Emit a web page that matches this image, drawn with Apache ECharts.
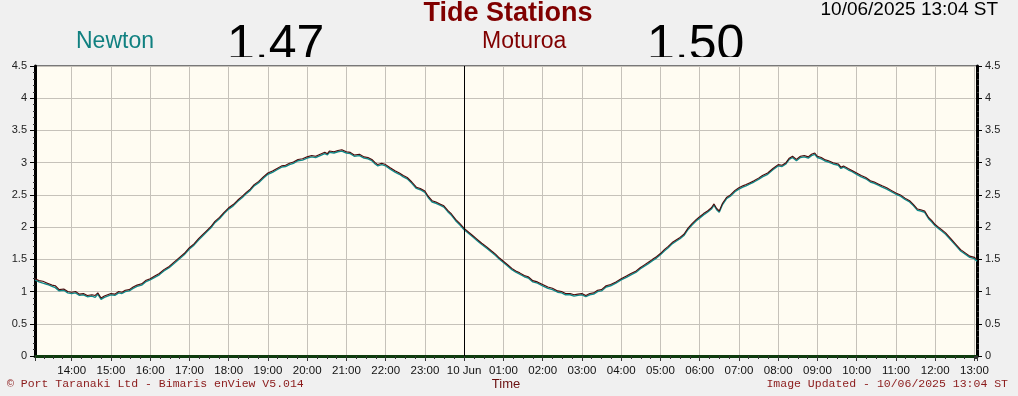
<!DOCTYPE html>
<html>
<head>
<meta charset="utf-8">
<title>Tide Stations</title>
<script src="https://cdn.jsdelivr.net/npm/echarts@6/dist/echarts.min.js"></script>
<style>
  html, body { margin: 0; padding: 0; background: #f0f0f0; }
  #main { width: 1018px; height: 396px; }
</style>
</head>
<body>
<div id="main"></div>
<script>
// station names and latest readings shown in the header
const stationNames = ['Newton', 'Moturoa'];
const latestValues = ['1.47', '1.50'];
const stampText = '10/06/2025 13:04 ST';

// sample times (HH:MM), 09 Jun 13:04 -> 10 Jun 13:04
const times = [
  '13:04','13:10','13:16','13:23','13:30','13:35','13:41','13:48','13:54','14:00',
  '14:06','14:12','14:18','14:24','14:31','14:36','14:40','14:45','14:50','14:55',
  '15:00','15:06','15:12','15:17','15:22','15:28','15:34','15:40','15:47','15:53',
  '16:00','16:07','16:14','16:21','16:29','16:37','16:45','16:52','17:00','17:07',
  '17:14','17:21','17:27','17:33','17:39','17:46','17:53','18:00','18:07','18:14',
  '18:21','18:27','18:33','18:39','18:46','18:53','19:00','19:07','19:14','19:21',
  '19:27','19:33','19:39','19:46','19:53','20:00','20:07','20:13','20:20','20:27',
  '20:31','20:34','20:41','20:47','20:53','21:00','21:06','21:12','21:20','21:27',
  '21:33','21:39','21:44','21:48','21:54','22:00','22:07','22:15','22:21','22:27',
  '22:33','22:40','22:47','22:53','23:00','23:05','23:11','23:17','23:23','23:29',
  '23:35','23:41','23:47','23:54','00:00','00:07','00:13','00:20','00:27','00:35',
  '00:42','00:48','00:54','01:00','01:06','01:13','01:19','01:25','01:32','01:38',
  '01:45','01:52','02:00','02:08','02:15','02:23','02:29','02:35','02:42','02:48',
  '02:54','03:00','03:06','03:12','03:18','03:24','03:30','03:37','03:44','03:52',
  '04:00','04:08','04:15','04:23','04:29','04:35','04:41','04:48','04:54','05:00',
  '05:06','05:12','05:18','05:24','05:30','05:36','05:42','05:48','05:55','06:00',
  '06:06','06:12','06:18','06:22','06:26','06:30','06:35','06:41','06:47','06:54',
  '07:00','07:06','07:11','07:17','07:23','07:30','07:36','07:44','07:52','08:00',
  '08:06','08:12','08:17','08:22','08:28','08:34','08:40','08:46','08:51','08:56',
  '09:00','09:06','09:11','09:17','09:24','09:32','09:36','09:40','09:47','09:53',
  '10:00','10:07','10:14','10:21','10:27','10:33','10:39','10:46','10:53','11:00',
  '11:07','11:14','11:21','11:27','11:33','11:38','11:44','11:50','11:55','12:00',
  '12:05','12:10','12:16','12:24','12:31','12:39','12:46','12:53','13:00','13:04'
];

// tide height (m)
const moturoa = [
  1.20,1.17,1.16,1.13,1.10,1.09,1.03,1.04,1.00,0.99,
  1.00,0.96,0.97,0.94,0.95,0.94,0.98,0.90,0.93,0.95,
  0.97,0.96,1.00,0.99,1.02,1.03,1.07,1.10,1.12,1.17,
  1.20,1.24,1.28,1.34,1.39,1.46,1.53,1.59,1.68,1.74,
  1.82,1.89,1.95,2.01,2.09,2.15,2.23,2.30,2.35,2.42,
  2.48,2.54,2.59,2.66,2.71,2.78,2.84,2.87,2.91,2.95,
  2.96,2.99,3.01,3.05,3.06,3.09,3.11,3.10,3.13,3.16,
  3.14,3.18,3.17,3.19,3.20,3.17,3.16,3.12,3.13,3.09,
  3.08,3.05,3.00,2.97,2.99,2.97,2.92,2.87,2.84,2.80,
  2.77,2.70,2.62,2.60,2.56,2.48,2.41,2.39,2.36,2.33,
  2.26,2.20,2.12,2.05,1.98,1.92,1.87,1.81,1.75,1.69,
  1.63,1.58,1.52,1.47,1.42,1.36,1.32,1.29,1.25,1.23,
  1.17,1.15,1.11,1.07,1.05,1.01,1.00,0.97,0.97,0.95,
  0.96,0.97,0.94,0.97,0.98,1.02,1.03,1.09,1.11,1.15,
  1.20,1.24,1.28,1.32,1.37,1.41,1.45,1.50,1.54,1.59,
  1.65,1.70,1.76,1.80,1.84,1.89,1.98,2.05,2.12,2.16,
  2.21,2.25,2.30,2.36,2.29,2.25,2.37,2.46,2.50,2.57,
  2.61,2.64,2.66,2.69,2.72,2.76,2.80,2.84,2.91,2.97,
  2.96,3.00,3.07,3.10,3.05,3.10,3.11,3.09,3.13,3.15,
  3.10,3.08,3.05,3.03,3.00,2.98,2.93,2.95,2.91,2.88,
  2.84,2.80,2.77,2.72,2.70,2.67,2.64,2.61,2.57,2.53,
  2.50,2.45,2.41,2.35,2.28,2.27,2.25,2.15,2.10,2.04,
  2.00,1.96,1.91,1.82,1.74,1.65,1.60,1.55,1.53,1.50
];

const newton = [
  1.18,1.15,1.13,1.11,1.08,1.06,1.01,1.02,0.98,0.97,
  0.98,0.94,0.95,0.92,0.93,0.91,0.96,0.88,0.91,0.93,
  0.95,0.94,0.98,0.97,1.00,1.01,1.05,1.08,1.10,1.15,
  1.18,1.22,1.26,1.32,1.37,1.44,1.51,1.57,1.66,1.72,
  1.80,1.87,1.93,1.99,2.07,2.13,2.21,2.28,2.33,2.40,
  2.46,2.52,2.57,2.64,2.69,2.76,2.82,2.85,2.89,2.93,
  2.94,2.97,2.99,3.03,3.04,3.07,3.09,3.08,3.11,3.14,
  3.12,3.16,3.15,3.17,3.18,3.15,3.14,3.10,3.11,3.07,
  3.06,3.03,2.98,2.95,2.97,2.95,2.90,2.85,2.82,2.78,
  2.75,2.68,2.60,2.58,2.54,2.46,2.39,2.37,2.34,2.31,
  2.24,2.18,2.10,2.03,1.96,1.90,1.85,1.79,1.73,1.67,
  1.61,1.56,1.50,1.45,1.40,1.34,1.30,1.27,1.23,1.21,
  1.15,1.13,1.09,1.05,1.03,0.99,0.98,0.95,0.95,0.93,
  0.94,0.95,0.92,0.95,0.96,1.00,1.01,1.07,1.09,1.13,
  1.18,1.22,1.26,1.30,1.35,1.39,1.43,1.48,1.52,1.57,
  1.63,1.68,1.74,1.78,1.82,1.87,1.96,2.03,2.10,2.14,
  2.19,2.23,2.28,2.34,2.27,2.23,2.35,2.44,2.48,2.55,
  2.59,2.62,2.64,2.67,2.70,2.74,2.78,2.82,2.89,2.95,
  2.94,2.98,3.05,3.08,3.03,3.08,3.09,3.07,3.11,3.13,
  3.08,3.06,3.03,3.01,2.98,2.96,2.91,2.93,2.89,2.86,
  2.82,2.78,2.75,2.70,2.68,2.65,2.62,2.59,2.55,2.51,
  2.48,2.43,2.39,2.33,2.26,2.25,2.23,2.13,2.08,2.02,
  1.98,1.94,1.89,1.80,1.72,1.63,1.58,1.53,1.51,1.47
];

// turn HH:MM into timestamps, day rolls over at midnight
let day = 9, prev = '';
const stamps = times.map(t => {
  if (prev && t < prev) day++;
  prev = t;
  const [h, m] = t.split(':').map(Number);
  return new Date(2025, 5, day, h, m).getTime();
});
const tStart = stamps[0];
const tEnd = stamps[stamps.length - 1];
const midnight = new Date(2025, 5, 10, 0, 0).getTime();

const sans = '"Liberation Sans", Arial, sans-serif';
const mono = '"Liberation Mono", "Courier New", monospace';
const gridCol = '#c6c2ba';

const chart = echarts.init(document.getElementById('main'));

const yAxisBase = {
  type: 'value',
  min: 0,
  max: 4.5,
  interval: 0.5,
  axisLine: {show: true, lineStyle: {color: '#000', width: 3}},
  axisTick: {show: true, length: 5, lineStyle: {color: '#000'}},
  minorTick: {show: true, splitNumber: 5, length: 2, lineStyle: {color: '#333'}},
  axisLabel: {fontSize: 11, color: '#222', fontFamily: sans, margin: 8}
};

chart.setOption({
  animation: false,
  backgroundColor: '#f0f0f0',
  grid: {
    left: 35, right: 41, top: 66, bottom: 40,
    show: true,
    backgroundColor: '#fffcf2',
    borderColor: '#000',
    borderWidth: 1
  },
  xAxis: [{
    type: 'time',
    min: tStart,
    max: tEnd,
    minInterval: 3600 * 1000,
    maxInterval: 3600 * 1000,
    axisLine: {lineStyle: {color: '#0d3b0d', width: 3}},
    axisTick: {length: 5, lineStyle: {color: '#333'}},
    minorTick: {show: true, splitNumber: 4, length: 3, lineStyle: {color: '#333'}},
    axisLabel: {
      formatter: {day: '{d} {MMM}', hour: '{HH}:{mm}', minute: '{HH}:{mm}'},
      fontSize: 11.5,
      color: '#111',
      fontFamily: sans,
      margin: 9
    },
    splitLine: {show: true, lineStyle: {color: gridCol, width: 1}}
  }],
  yAxis: [
    Object.assign({}, yAxisBase, {
      position: 'left',
      splitLine: {show: true, lineStyle: {color: gridCol, width: 1}}
    }),
    Object.assign({}, yAxisBase, {
      position: 'right',
      splitLine: {show: false}
    })
  ],
  series: [
    {
      name: stationNames[0],
      type: 'line',
      showSymbol: false,
      data: stamps.map((t, i) => [t, newton[i]]),
      lineStyle: {color: '#108a8a', width: 1.4},
      z: 3
    },
    {
      name: stationNames[1],
      type: 'line',
      showSymbol: false,
      data: stamps.map((t, i) => [t, moturoa[i]]),
      lineStyle: {color: '#4a0c0c', width: 1.1},
      z: 4,
      markLine: {
        silent: true,
        symbol: 'none',
        label: {show: false},
        lineStyle: {color: '#000', width: 1, type: 'solid'},
        data: [{xAxis: midnight}]
      }
    }
  ],
  graphic: [
    {type: 'text', x: 508, y: 14, style: {text: 'Tide Stations', font: 'bold 27px ' + sans, fill: '#800000', align: 'center', verticalAlign: 'middle'}},
    {type: 'text', x: 998, y: 10, style: {text: stampText, font: '19px ' + sans, fill: '#000', align: 'right', verticalAlign: 'middle'}},
    {type: 'text', x: 76, y: 42, style: {text: stationNames[0], font: '23px ' + sans, fill: '#108080', align: 'left', verticalAlign: 'middle'}},
    {type: 'text', x: 482, y: 42, style: {text: stationNames[1], font: '23px ' + sans, fill: '#800000', align: 'left', verticalAlign: 'middle'}},
    {type: 'text', x: 227, y: 46, style: {text: latestValues[0], font: '50px ' + sans, fill: '#000', align: 'left', verticalAlign: 'middle'}},
    {type: 'text', x: 647, y: 46, style: {text: latestValues[1], font: '50px ' + sans, fill: '#000', align: 'left', verticalAlign: 'middle'}},
    // big readouts are cut off just above the plot
    {type: 'rect', shape: {x: 215, y: 57, width: 130, height: 7.5}, style: {fill: '#f0f0f0'}},
    {type: 'rect', shape: {x: 635, y: 57, width: 130, height: 7.5}, style: {fill: '#f0f0f0'}},
    {type: 'text', x: 7, y: 384, style: {text: '\u00a9 Port Taranaki Ltd - Bimaris enView V5.014', font: '11.5px ' + mono, fill: '#8b1a1a', align: 'left', verticalAlign: 'middle'}},
    {type: 'text', x: 506, y: 384, style: {text: 'Time', font: '13px ' + sans, fill: '#6a1010', align: 'center', verticalAlign: 'middle'}},
    {type: 'text', x: 1008, y: 384, style: {text: 'Image Updated - ' + stampText, font: '11.5px ' + mono, fill: '#8b1a1a', align: 'right', verticalAlign: 'middle'}}
  ]
});
</script>
</body>
</html>
